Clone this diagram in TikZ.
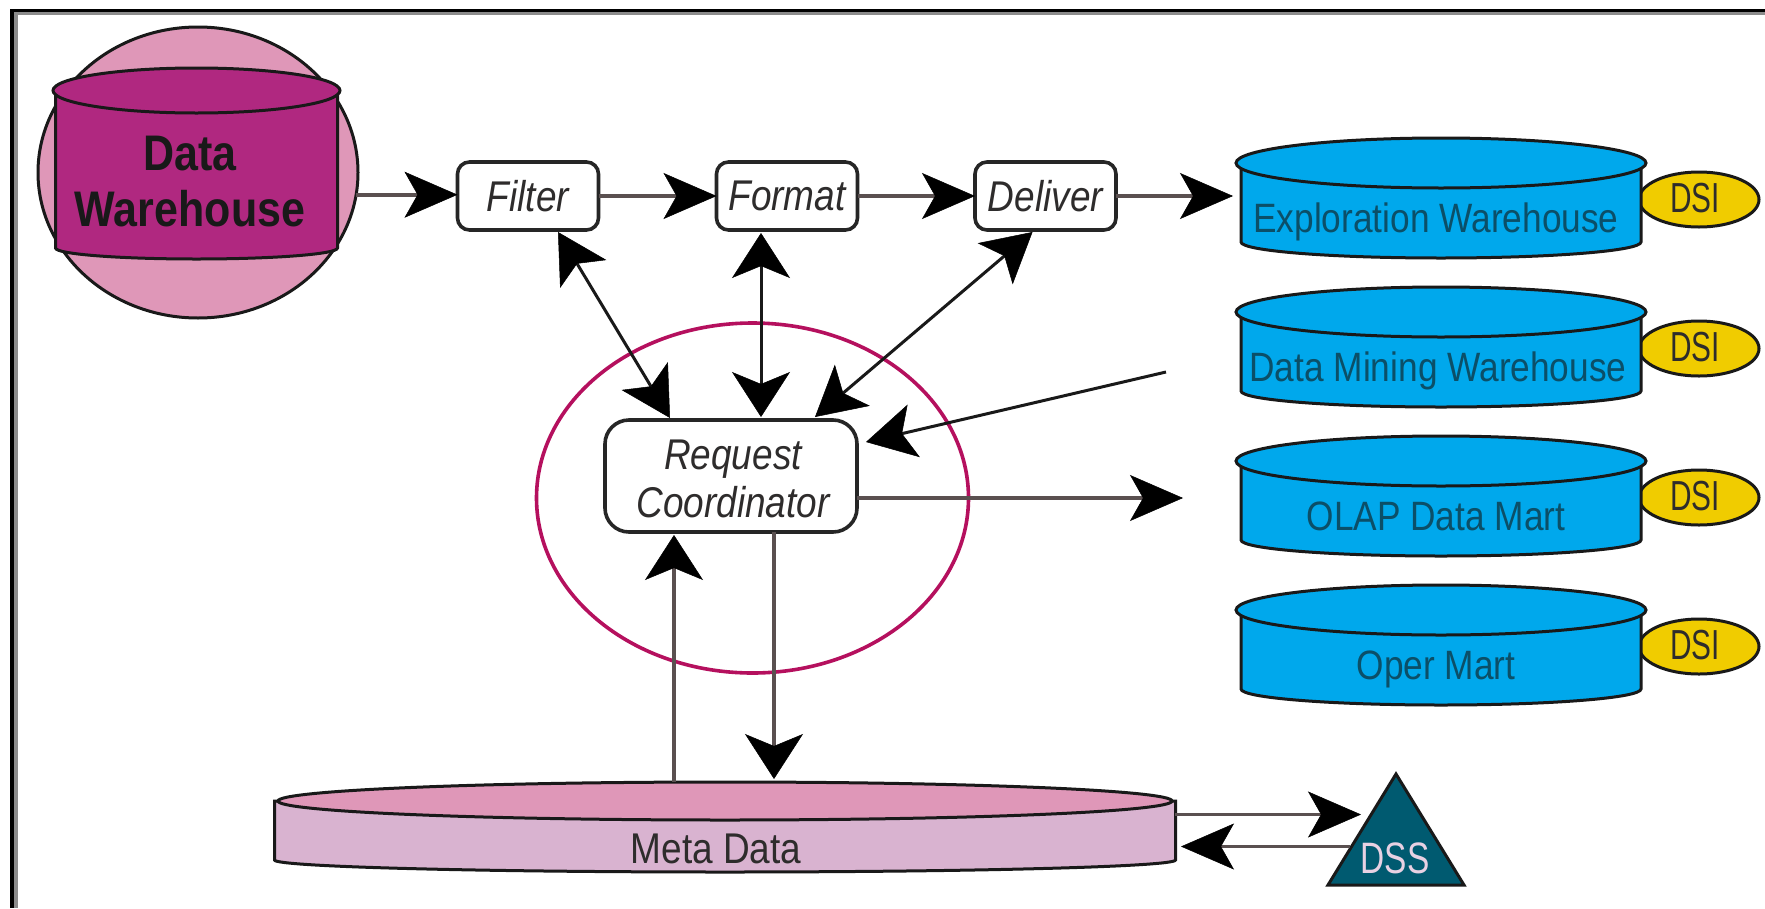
\documentclass[tikz,border=0pt]{standalone}
\usepackage{fontspec}
\setmainfont{Liberation Sans}
\newfontfamily\nf[FakeStretch=0.86]{Liberation Sans}
\newfontfamily\nn[FakeStretch=0.71]{Liberation Sans}
\newfontfamily\nd[FakeStretch=0.76]{Liberation Sans}
\usetikzlibrary{arrows.meta,calc,shapes.geometric}
\definecolor{pinkfill}{HTML}{DF97B8}
\definecolor{plum}{HTML}{B02880}
\definecolor{mauve}{HTML}{D9B3D0}
\definecolor{skyfill}{HTML}{00A8EC}
\definecolor{goldfill}{HTML}{F0CC00}
\definecolor{tealfill}{HTML}{005A70}
\definecolor{ringcol}{HTML}{B5105E}
\definecolor{stem}{HTML}{5A5050}
\definecolor{skytext}{HTML}{0B4F68}
\definecolor{softtext}{HTML}{2E2C2C}
\tikzset{
  outline/.style={draw=black!90,line width=3pt},
  ghost/.style={inner sep=0pt,outer sep=0pt,draw=none},
  procbox/.style={draw=black!85,fill=white,line width=3.6pt,rounded corners=12pt,
    minimum width=141pt,minimum height=68pt,inner sep=0pt,outer sep=0pt,
    font=\fontsize{43}{48}\selectfont\nf\itshape,text=softtext},
  hstem/.style={draw=stem,line width=3.6pt},
  vstem/.style={draw=stem,line width=3.6pt},
  dstem/.style={draw=black!90,line width=3pt},
  htip/.tip={Stealth[black,line width=0.5pt,length=53pt,width=46pt,inset=13pt]},
  vtip/.tip={Stealth[black,line width=0.5pt,length=45pt,width=58pt,inset=12pt]},
  dtip/.tip={Stealth[black,line width=0.5pt,length=49pt,width=54pt,inset=12pt]},
  skylabel/.style={ghost,anchor=base,text=skytext,font=\fontsize{41}{46}\selectfont\nf},
  dsilabel/.style={ghost,anchor=base,text=softtext,font=\fontsize{42}{46}\selectfont\nn},
}
% cx, top cy, top rx, top ry, body half width, corner y, sag, top fill, body fill
\newcommand{\drumshape}[9]{%
  \filldraw[outline,fill=#9] ({#1-#5},#2) -- ({#1-#5},#6)
    arc[start angle=180,end angle=0,x radius=#5,y radius=#7] -- ({#1+#5},#2) -- cycle;
  \filldraw[outline,fill=#8] (#1,#2) ellipse[x radius=#3,y radius=#4];
}
% name, vertical offset, label, label x
\newcommand{\martshape}[4]{%
  \node[ellipse,ghost,draw=black!90,line width=3pt,fill=goldfill,minimum width=120pt,minimum height=55pt]
    (#1dsi) at (1699,{199.5+#2}) {};
  \drumshape{1441}{163+#2}{205}{25}{200}{242+#2}{16}{skyfill}{skyfill}
  \node[ghost,minimum width=416pt,minimum height=120pt] (#1) at (1441,{198+#2}) {};
  \node[skylabel] (#1label) at (#4,{232+#2}) {#3};
  \node[dsilabel] (#1dsilabel) at (1695,{212+#2}) {DSI};
}
\begin{document}
\begin{tikzpicture}[x=1pt,y=-1pt]
\useasboundingbox (0,0) rectangle (1765,908);
\fill[white] (0,0) rectangle (1765,908);
% page frame
\draw[draw=gray!90,line width=3.5pt] (16,908) -- (16,13.5) -- (1765,13.5);
\draw[draw=black,line width=3.5pt] (12,908) -- (12,10.5) -- (1765,10.5);

% data warehouse
\node[ellipse,ghost,draw=black!90,line width=3pt,fill=pinkfill,minimum width=320pt,minimum height=291pt]
  (dwglobe) at (198,172.5) {};
\drumshape{196.5}{90.5}{143.5}{22.5}{141}{248}{11}{plum}{plum}
\node[ghost,align=center,text=black!90,font=\fontsize{50}{56}\selectfont\nf\bfseries]
  (dwlabel) at (190,182) {Data\\Warehouse};

% ring
\node[ellipse,ghost,draw=ringcol,line width=3.6pt,minimum width=432pt,minimum height=350pt]
  (ring) at (752.5,498) {};

% process boxes
\node[procbox] (filter) at (528,196) {Filter};
\node[procbox] (format) at (787,196) {Format};
\node[procbox] (deliver) at (1045.5,196) {Deliver};
\node[procbox,minimum width=252pt,minimum height=112pt,rounded corners=24pt] (rc) at (731,476) {};
\node[ghost,align=center,text=softtext,font=\fontsize{43}{48}\selectfont\nf\itshape]
  (rclabel) at (733,479) {Request\\Coordinator};

% stores
\martshape{exploration}{0}{Exploration Warehouse}{1436}
\martshape{mining}{149}{Data Mining Warehouse}{1438}
\martshape{olap}{298}{OLAP Data Mart}{1436}
\martshape{oper}{447}{Oper Mart}{1436}

% meta data
\drumshape{725}{801}{447}{19}{450.5}{860}{12}{pinkfill}{mauve}
\node[ghost,minimum width=901pt,minimum height=90pt] (meta) at (724.5,827) {};
\node[ghost,anchor=base,text=softtext,font=\fontsize{43}{48}\selectfont\nf] (metalabel) at (716,863) {Meta Data};

% DSS
\filldraw[outline,fill=tealfill,line join=miter] (1396,774) -- (1464,885) -- (1328,885) -- cycle;
\node[ghost,minimum width=140pt,minimum height=113pt] (dss) at (1396,828.5) {};
\node[ghost,anchor=base,text=mauve!60!white,font=\fontsize{44}{48}\selectfont\nd] (dsslabel) at (1395,873) {DSS};

% named connector ends
\coordinate (miningfree) at (1166,372);
\coordinate (olapfree) at (1183,498);
\coordinate (rcminingin) at ($(rc.east)+(9,-34)$);
\coordinate (rcfilter) at ($(rc.north)+(-61,-2)$);
\coordinate (rcdeliver) at ($(rc.north)+(84,-3)$);
\coordinate (rcformat) at ($(rc.north)+(30,-3)$);
\coordinate (filterrc) at ($(filter.south)+(30,2)$);
\coordinate (formatrc) at ($(format.south)+(-26,3)$);
\coordinate (deliverrc) at ($(deliver.south)+(-13,2)$);
\coordinate (rcup) at ($(rc.south)+(-57,3)$);
\coordinate (rcdown) at ($(rc.south)+(43,0)$);
\coordinate (dssin) at ($(dss.center)+(-35,-14)$);
\coordinate (dssout) at ($(dss.center)+(-46,18)$);

% connectors
\draw[hstem,-{htip}] (dwglobe.-8.5) -- (dwglobe.-8.5 -| filter.west);
\draw[hstem,-{htip}] (filter.east) -- (format.west);
\draw[hstem,-{htip}] (format.east) -- (deliver.west);
\draw[hstem,-{htip}] (deliver.east) -- (deliver.east -| exploration.west);
\draw[dstem,{dtip}-{dtip}] (filterrc) -- (rcfilter);
\draw[dstem,{vtip}-{vtip}] (formatrc) -- (rcformat);
\draw[dstem,{dtip}-{dtip}] (deliverrc) -- (rcdeliver);
\draw[dstem,-{dtip}] (miningfree) -- (rcminingin);
\draw[hstem,-{htip}] (rc.east |- olapfree) -- (olapfree);
\draw[vstem,-{vtip}] (rcup |- meta.north) -- (rcup);
\draw[vstem,-{vtip},shorten >=3pt] (rcdown) -- (rcdown |- meta.north);
\draw[hstem,-{htip}] (meta.east |- dssin) -- (dssin);
\draw[hstem,-{htip},shorten >=6pt] (dssout) -- (dssout -| meta.east);
\end{tikzpicture}
\end{document}
